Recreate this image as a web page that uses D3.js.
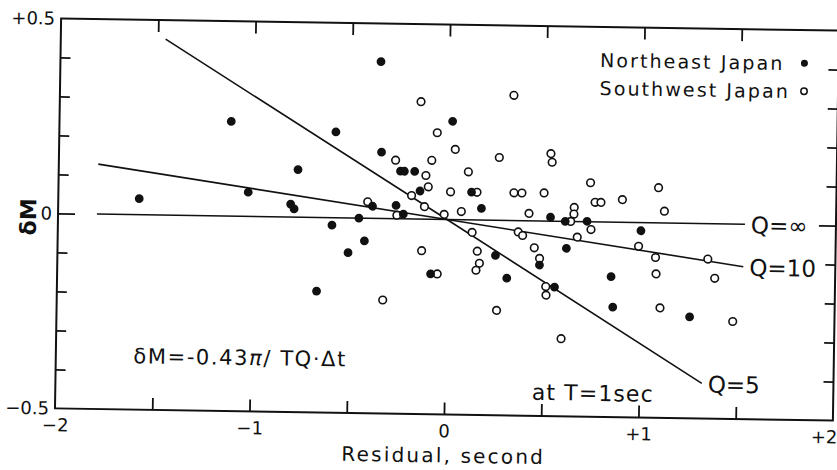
<!DOCTYPE html>
<html>
<head>
<meta charset="utf-8">
<script src="https://cdn.jsdelivr.net/npm/d3@7"></script>
<style>
  body { margin: 0; background: #fff; }
  svg { display: block; }
  text { font-family: "DejaVu Sans", sans-serif; fill: #111; }
  .axis path { display: none; }
  .axis line { stroke: #111; stroke-width: 1.8; }
</style>
</head>
<body>
<div id="chart"></div>
<script>
// tick values and labels
const xLabelVals = [-2, -1, 0, 1, 2];
const xLabelText = ["\u22122", "\u22121", "0", "+1", "+2"];
const xTickMarks = [-1.5, -1, -0.5, 0, 0.5, 1, 1.5];
const yLabelVals = [0.5, 0, -0.5];
const yLabelText = ["+0.5", "0", "\u22120.5"];
const yTickMarks = [0.4, 0.3, 0.2, 0.1, 0, -0.1, -0.2, -0.3, -0.4];

// residual (s), dM
const northeast = [
    [-1.584, 0.041], [-1.117, 0.243], [-0.578, 0.220], [-0.770, 0.122], [-1.024, 0.062],
    [-0.805, 0.033], [-0.787, 0.021], [-0.591, -0.019], [-0.506, -0.089], [-0.665, -0.189],
    [-0.352, 0.402], [-0.342, 0.170], [-0.243, 0.122], [-0.223, 0.122], [-0.170, 0.122],
    [-0.141, 0.072], [-0.384, 0.031], [-0.263, 0.034], [-0.225, 0.012], [-0.453, 0.000],
    [-0.423, -0.058], [0.021, 0.252], [0.124, 0.071], [0.176, 0.030], [0.532, 0.010],
    [0.608, 0.000], [0.720, 0.001], [0.998, -0.021], [0.252, -0.090], [0.312, -0.148],
    [-0.080, -0.140], [0.616, -0.069], [0.479, -0.113], [0.558, -0.169], [0.848, -0.140],
    [0.859, -0.218], [1.255, -0.240]
];

const southwest = [
    [-0.143, 0.301], [0.334, 0.321], [-0.057, 0.222], [0.037, 0.180], [-0.269, 0.150],
    [-0.083, 0.151], [0.264, 0.161], [-0.112, 0.112], [0.106, 0.123], [-0.099, 0.083],
    [-0.184, 0.060], [0.016, 0.071], [0.152, 0.071], [0.342, 0.071], [0.383, 0.071],
    [0.497, 0.072], [0.529, 0.173], [0.536, 0.151], [0.735, 0.100], [1.085, 0.090],
    [0.760, 0.050], [0.790, 0.050], [0.900, 0.058], [1.117, 0.030], [-0.117, 0.032],
    [0.073, 0.021], [-0.015, 0.013], [0.421, 0.019], [0.636, 0.000], [0.653, 0.036],
    [0.652, 0.019], [0.741, -0.020], [-0.409, 0.042], [-0.258, 0.009], [0.130, -0.032],
    [0.367, -0.029], [0.390, -0.038], [0.671, -0.040], [-0.128, -0.081], [0.158, -0.080],
    [0.170, -0.111], [0.153, -0.129], [-0.046, -0.140], [-0.324, -0.209], [0.262, -0.231],
    [0.451, -0.069], [0.479, -0.096], [0.513, -0.168], [0.515, -0.190], [0.596, -0.301],
    [0.987, -0.061], [1.075, -0.089], [1.079, -0.131], [1.102, -0.218], [1.344, -0.091],
    [1.381, -0.140], [1.477, -0.250]
];

// attenuation lines, Q values
const qLabels = ["Q=\u221E", "Q=10", "Q=5"];
const qStart = [[-1.800, 0], [-1.797, 0.128], [-1.461, 0.451]];
const qEnd = [[1.532, 0], [1.527, -0.109], [1.323, -0.410]];

const margin = { top: 24.5, left: 58 };
const width = 778, height = 390;

const root = d3.select("#chart").append("svg")
    .attr("width", 837)
    .attr("height", 470);

// the scanned figure sits a little askew
const svg = root.append("g")
    .attr("transform", "rotate(0.9," + (margin.left + width / 2) + "," + (margin.top + height / 2) + ")")
    .append("g")
    .attr("transform", "translate(" + margin.left + "," + margin.top + ")");

const x = d3.scaleLinear().domain([-2, 2]).range([0, width]);
const y = d3.scaleLinear().domain([-0.5, 0.5]).range([height, 0]);

// frame
svg.append("rect")
    .attr("width", width)
    .attr("height", height)
    .attr("fill", "none")
    .attr("stroke", "#111")
    .attr("stroke-width", 2);

// inward tick marks
svg.append("g").attr("class", "axis")
    .attr("transform", "translate(0," + height + ")")
    .call(d3.axisBottom(x).tickValues(xTickMarks).tickSize(-12).tickFormat(""));
svg.append("g").attr("class", "axis")
    .call(d3.axisTop(x).tickValues(xTickMarks).tickSize(-12).tickFormat(""));
svg.append("g").attr("class", "axis")
    .call(d3.axisLeft(y).tickValues(yTickMarks).tickSize(-10).tickFormat(""));
svg.append("g").attr("class", "axis")
    .attr("transform", "translate(" + width + ",0)")
    .call(d3.axisRight(y).tickValues(yTickMarks).tickSize(-10).tickFormat(""));

// zero ticks are longer
svg.selectAll(".axis .tick line")
    .filter(function (d) { return d === 0 && this.getAttribute("x2") !== null && this.getAttribute("x2") !== "0"; })
    .attr("x2", function () { return +this.getAttribute("x2") < 0 ? -17 : 17; });

// tick labels
svg.append("g").attr("class", "axis")
    .attr("transform", "translate(0," + height + ")")
    .call(d3.axisBottom(x).tickValues(xLabelVals).tickSize(0).tickPadding(10)
        .tickFormat((d, i) => xLabelText[i]))
    .selectAll("text")
    .style("font-size", "18px")
    .attr("dx", d => d === 2 ? -9 : 0);

svg.append("g").attr("class", "axis")
    .call(d3.axisLeft(y).tickValues(yLabelVals).tickSize(0).tickPadding(6)
        .tickFormat((d, i) => yLabelText[i]))
    .selectAll("text")
    .style("font-size", "18px");

// axis titles
svg.append("text")
    .attr("x", width / 2)
    .attr("y", height + 48)
    .attr("text-anchor", "middle")
    .style("font-size", "20px")
    .style("letter-spacing", "2.2px")
    .text("Residual, second");

svg.append("text")
    .attr("transform", "translate(-22," + y(-0.01) + ") rotate(-90)")
    .attr("text-anchor", "middle")
    .style("font-size", "22px")
    .style("font-weight", "bold")
    .text("\u03B4M");

// Q lines
const lineGen = d3.line().x(d => x(d[0])).y(d => y(d[1]));

svg.selectAll(".q-line")
    .data(qLabels)
    .enter()
    .append("path")
    .attr("class", "q-line")
    .attr("d", (d, i) => lineGen([qStart[i], [0, 0], qEnd[i]]))
    .attr("fill", "none")
    .attr("stroke", "#111")
    .attr("stroke-width", 1.6);

svg.selectAll(".q-label")
    .data(qLabels)
    .enter()
    .append("text")
    .attr("class", "q-label")
    .attr("x", (d, i) => x(qEnd[i][0]) + 6)
    .attr("y", (d, i) => y(qEnd[i][1]) + 9)
    .style("font-size", "23px")
    .text(d => d);

// points
svg.selectAll(".sw")
    .data(southwest)
    .enter()
    .append("circle")
    .attr("class", "sw")
    .attr("cx", d => x(d[0]))
    .attr("cy", d => y(d[1]))
    .attr("r", 3.8)
    .attr("fill", "#fff")
    .attr("stroke", "#111")
    .attr("stroke-width", 1.6);

svg.selectAll(".ne")
    .data(northeast)
    .enter()
    .append("circle")
    .attr("class", "ne")
    .attr("cx", d => x(d[0]))
    .attr("cy", d => y(d[1]))
    .attr("r", 4.4)
    .attr("fill", "#111");

// legend
const legend = svg.append("g")
    .attr("transform", "translate(" + x(0.774) + "," + y(0.397) + ")");

legend.append("text")
    .attr("x", 0).attr("y", 0)
    .style("font-size", "19px")
    .style("letter-spacing", "2.1px")
    .text("Northeast  Japan");
legend.append("text")
    .attr("x", 0).attr("y", 28)
    .style("font-size", "19px")
    .style("letter-spacing", "2.1px")
    .text("Southwest  Japan");
legend.append("circle")
    .attr("cx", x(1.825) - x(0.774)).attr("cy", -7)
    .attr("r", 3.5).attr("fill", "#111");
legend.append("circle")
    .attr("cx", x(1.825) - x(0.774)).attr("cy", 21)
    .attr("r", 3.2).attr("fill", "#fff")
    .attr("stroke", "#111").attr("stroke-width", 1.5);

// annotations
svg.append("text")
    .attr("x", x(-1.601))
    .attr("y", y(-0.381))
    .style("font-size", "21px")
    .style("letter-spacing", "1.6px")
    .html("\u03B4M=-0.43<tspan font-style='italic'>\u03C0</tspan>/ TQ\u00B7\u0394t");

svg.append("text")
    .attr("x", x(0.450))
    .attr("y", y(-0.459))
    .style("font-size", "22px")
    .style("letter-spacing", "1.1px")
    .text("at T=1sec");
</script>
</body>
</html>
